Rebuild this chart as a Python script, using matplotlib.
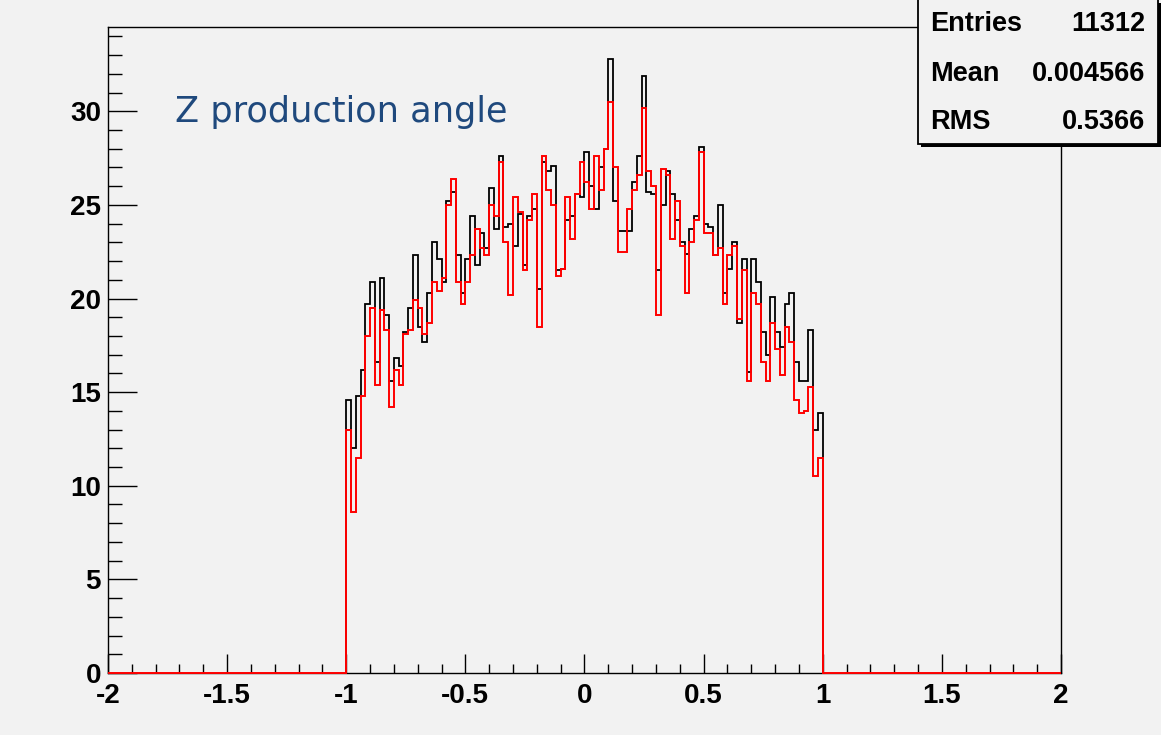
import numpy as np
import matplotlib
matplotlib.use('Agg')
import matplotlib.pyplot as plt
from matplotlib.patches import Rectangle
from matplotlib.ticker import MultipleLocator

# 100 bins of width 0.02 between -1 and 1 (empty outside)
black_counts = [
    14.6, 12.0, 14.8, 16.2, 19.7, 20.9, 16.6, 21.1, 19.1, 15.6,
    16.8, 16.4, 18.2, 19.5, 22.3, 18.5, 17.7, 20.3, 23.0, 22.1,
    20.9, 25.2, 25.7, 22.3, 20.3, 22.1, 24.4, 21.8, 23.5, 22.7,
    25.9, 23.7, 27.6, 23.8, 24.0, 22.8, 24.5, 21.8, 24.4, 24.8,
    20.5, 27.3, 26.8, 27.1, 21.5, 21.6, 24.2, 24.4, 25.6, 25.4,
    27.8, 26.0, 24.8, 27.0, 28.0, 32.8, 25.2, 23.6, 23.6, 23.6,
    26.2, 27.6, 31.9, 25.7, 25.6, 21.5, 25.0, 26.8, 25.6, 24.2,
    23.0, 22.4, 23.7, 24.4, 28.1, 24.0, 23.8, 22.3, 25.0, 20.3,
    21.6, 23.0, 18.7, 22.1, 16.1, 22.1, 20.9, 18.2, 17.0, 20.1,
    18.2, 17.4, 19.7, 20.3, 16.6, 15.6, 15.6, 18.3, 13.0, 13.9,
]
red_counts = [
    13.0, 8.6, 11.5, 14.8, 18.0, 19.5, 15.4, 19.4, 18.3, 14.2,
    16.2, 15.4, 18.1, 18.3, 19.9, 19.5, 18.1, 18.7, 20.9, 20.4,
    21.1, 25.0, 26.4, 20.9, 19.7, 20.9, 22.3, 23.7, 22.7, 22.3,
    25.0, 24.4, 27.3, 23.0, 20.2, 25.4, 24.6, 21.5, 24.2, 25.6,
    18.5, 27.6, 25.8, 25.0, 21.2, 21.6, 25.4, 23.2, 25.6, 27.3,
    26.2, 24.8, 27.6, 25.8, 28.0, 30.5, 27.0, 22.5, 22.5, 24.8,
    25.8, 26.6, 30.2, 26.8, 26.0, 19.1, 26.9, 26.6, 23.2, 25.2,
    22.8, 20.3, 23.0, 24.2, 27.8, 23.5, 23.5, 22.3, 22.7, 19.7,
    22.3, 22.8, 18.9, 21.5, 15.6, 20.3, 19.7, 16.6, 15.6, 18.7,
    17.3, 15.9, 18.5, 17.7, 14.6, 13.9, 14.0, 15.3, 10.5, 11.5,
]
stats_names = ['Entries', 'Mean', 'RMS']
stats_values = ['11312', '0.004566', '0.5366']

W, H = 1161, 735
bg = '#f2f2f2'
fig = plt.figure(figsize=(W / 100, H / 100), dpi=100, facecolor=bg)
ax = fig.add_axes([108 / W, 1 - 673 / H, (1061 - 108) / W, (673 - 27) / H])
ax.set_facecolor(bg)

edges = np.linspace(-1, 1, len(black_counts) + 1)
ax.stairs(black_counts, edges, baseline=0, color='black', lw=1.3, zorder=2)

# red histogram spans the full -2..2 range, the outer regions are empty
red_edges = np.concatenate([[-2], edges, [2]])
red_vals = np.concatenate([[0], red_counts, [0]])
ax.stairs(red_vals, red_edges, baseline=None, color='#ff0000', lw=1.4,
          zorder=3, clip_on=False)

ax.set_xlim(-2, 2)
ax.set_ylim(0, 34.5)

ax.xaxis.set_major_locator(MultipleLocator(0.5))
ax.xaxis.set_minor_locator(MultipleLocator(0.1))
ax.yaxis.set_major_locator(MultipleLocator(5))
ax.yaxis.set_minor_locator(MultipleLocator(1))
ax.xaxis.set_major_formatter(plt.FuncFormatter(lambda v, p: f'{v:g}'))

ax.tick_params(axis='x', which='major', direction='in', length=13.7, width=1.0, pad=7)
ax.tick_params(axis='x', which='minor', direction='in', length=6.8, width=1.0)
ax.tick_params(axis='y', which='major', direction='in', length=20.9, width=1.0, pad=5)
ax.tick_params(axis='y', which='minor', direction='in', length=10.4, width=1.0)
for lab in ax.get_xticklabels() + ax.get_yticklabels():
    lab.set_fontfamily('Liberation Sans')
    lab.set_fontweight('bold')
    lab.set_fontsize(20)

for s in ax.spines.values():
    s.set_linewidth(1.0)
    s.set_color('black')

fig.text(175 / W, 1 - 112 / H, 'Z production angle', color='#1f497d',
         fontsize=25.3, family='DejaVu Sans', ha='left', va='center')

# stats box with shadow
bx0, by0, bx1, by1 = 918, 0, 1158, 144
fig.add_artist(Rectangle(((bx0 + 3) / W, 1 - (by1 + 3) / H), (bx1 - bx0) / W,
                         (by1 - by0) / H, transform=fig.transFigure,
                         fc='black', ec='black', lw=0, zorder=5))
fig.add_artist(Rectangle((bx0 / W, 1 - by1 / H), (bx1 - bx0) / W,
                         (by1 - by0 + 5) / H, transform=fig.transFigure,
                         fc=bg, ec='black', lw=1.3, zorder=6))
row_y = [24, 74, 122]
for name, val, yy in zip(stats_names, stats_values, row_y):
    fig.text(930 / W, 1 - yy / H, name, ha='left', va='center', fontsize=19.5,
             fontweight='bold', family='Liberation Sans', zorder=7)
    fig.text(1145 / W, 1 - yy / H, val, ha='right', va='center', fontsize=19.5,
             fontweight='bold', family='Liberation Sans', zorder=7)

fig.savefig('out.png', dpi=100, facecolor=bg)
